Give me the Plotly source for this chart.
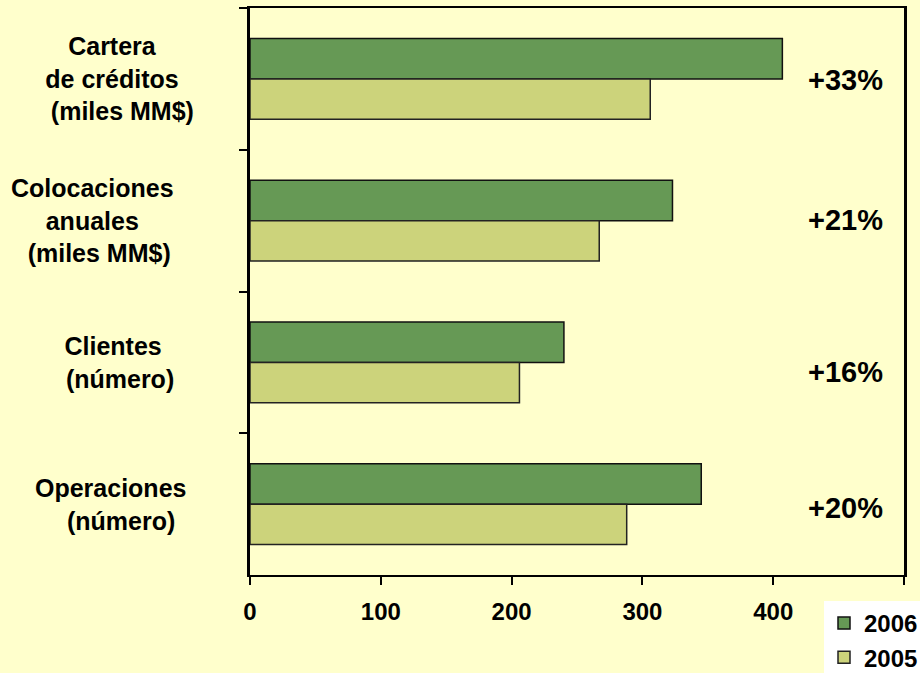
import plotly.graph_objects as go

# Indicator groups shown on the vertical axis (top to bottom)
categorias = ["Cartera", "Colocaciones", "Clientes", "Operaciones"]
etiquetas = [
    "Cartera<br>de créditos<br>&nbsp;&nbsp;&nbsp;(miles MM$)",
    "Colocaciones<br>anuales<br>&nbsp;&nbsp;(miles MM$)",
    "Clientes<br>&nbsp;&nbsp;(número)",
    "Operaciones<br>&nbsp;&nbsp;&nbsp;(número)",
]

# Values per year
valores_2006 = [407, 323, 240, 345]
valores_2005 = [306, 267, 206, 288]

# Year-over-year growth labels
variaciones = ["+33%", "+21%", "+16%", "+20%"]

# Ticks on the value axis
valores_eje = [0, 100, 200, 300, 400, 500]
textos_eje = ["0", "100", "200", "300", "400", ""]

FONDO = "#FFFFCC"
VERDE_OSCURO = "#669955"
VERDE_CLARO = "#CCD37B"
FUENTE = "Liberation Sans, Arial, sans-serif"

# Plot area geometry (pixels)
ML, MR, MT, MB = 250, 16, 8, 98
ANCHO, ALTO = 920, 673
ancho_area = ANCHO - ML - MR
alto_area = ALTO - MT - MB

fig = go.Figure()
fig.add_trace(go.Bar(
    name="2006", y=categorias, x=valores_2006, orientation="h",
    marker=dict(color=VERDE_OSCURO, line=dict(color="#111111", width=1.5)),
))
fig.add_trace(go.Bar(
    name="2005", y=categorias, x=valores_2005, orientation="h",
    marker=dict(color=VERDE_CLARO, line=dict(color="#222222", width=1.5)),
))

# Category labels, each block centred at its own horizontal position
centros_px = [112, 92, 113, 110]
for cat, txt, cx in zip(categorias, etiquetas, centros_px):
    fig.add_annotation(
        x=(cx - ML) / ancho_area, xref="paper", xanchor="center",
        y=cat, yref="y", yanchor="middle",
        text=txt, showarrow=False, align="center",
        font=dict(family=FUENTE, size=25, color="black", weight="bold"),
    )

# Growth labels on the right side of the plot
desplazamientos = [-1, 1, -10, -4]
for cat, txt, dy in zip(categorias, variaciones, desplazamientos):
    fig.add_annotation(
        x=455, xref="x", xanchor="center",
        y=cat, yref="y", yanchor="middle", yshift=dy,
        text=txt, showarrow=False,
        font=dict(family=FUENTE, size=29, color="black", weight="bold"),
    )

fig.update_layout(
    width=ANCHO, height=ALTO,
    margin=dict(l=ML, r=MR, t=MT, b=MB, autoexpand=False),
    paper_bgcolor=FONDO, plot_bgcolor=FONDO,
    barmode="group", bargap=0.43, bargroupgap=0,
    showlegend=True,
    legend=dict(
        x=(824 - ML) / ancho_area, xanchor="left",
        y=(MT + alto_area - 601) / alto_area, yanchor="top",
        bgcolor="white", borderwidth=0,
        font=dict(family=FUENTE, size=24, color="black", weight="bold"),
        itemwidth=30, tracegroupgap=0,
    ),
    font=dict(family=FUENTE, color="black"),
)

fig.update_xaxes(
    range=[0, 500], tickvals=valores_eje, ticktext=textos_eje,
    showgrid=False, zeroline=False,
    showline=True, linecolor="black", linewidth=2, mirror=True,
    ticks="outside", ticklen=8, tickwidth=1.5, tickcolor="black",
    ticklabelstandoff=6,
    tickfont=dict(family=FUENTE, size=24, color="black", weight="bold"),
)
fig.update_yaxes(
    autorange="reversed", showticklabels=False, showgrid=False,
    showline=True, linecolor="black", linewidth=2.5, mirror=True,
    ticks="outside", ticklen=8, tickwidth=1.5, tickcolor="black",
    tickson="boundaries",
)

fig.write_html("out.html")
